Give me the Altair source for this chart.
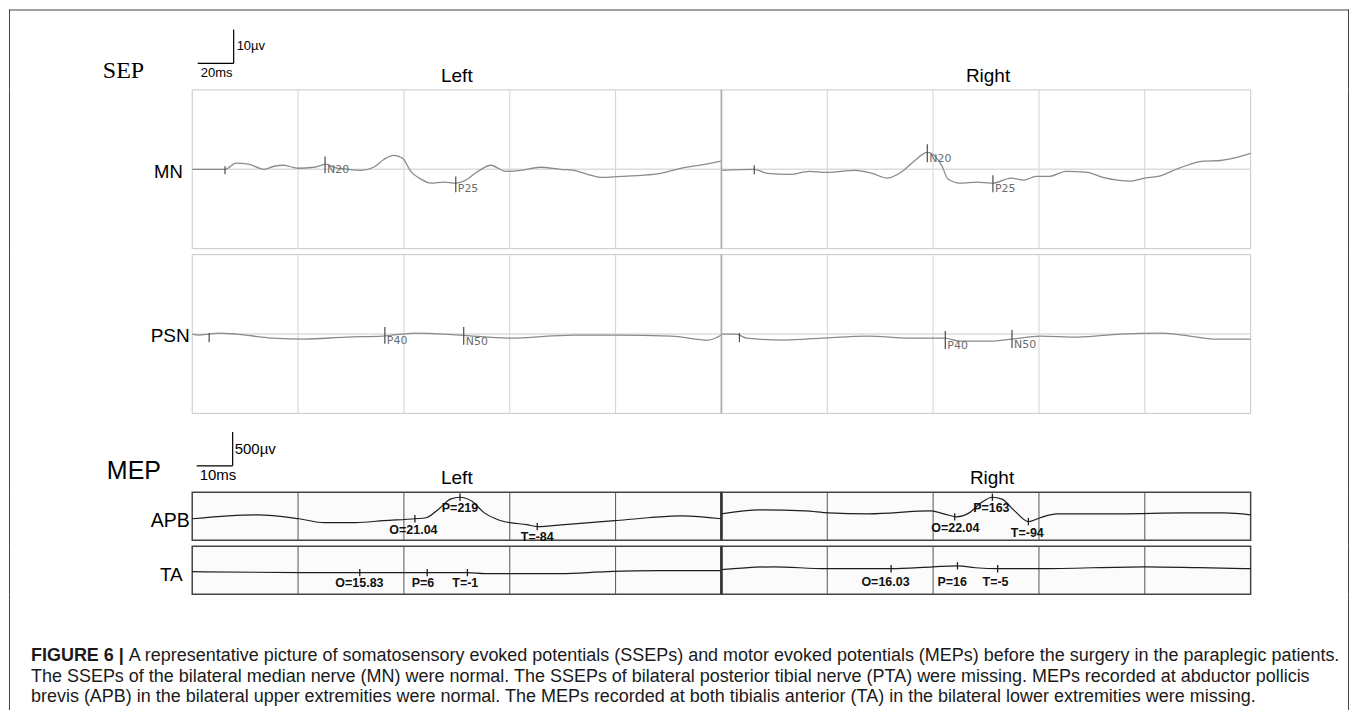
import altair as alt
import pandas as pd

FONT = "Liberation Sans"
NARROW = "Liberation Sans Narrow, Arial Narrow, Liberation Sans"
MARK_FONT = "DejaVu Sans"

# ---------------- SEP traces: time (ms), amplitude (µV) ----------------
MN_L_T = [0, 6.2, 8.3, 10.6, 13.6, 15.5, 17.2, 20.0, 23.0, 25.3, 26.8, 29.4, 31.9, 34.3, 36.2, 38.1, 39.8, 41.3, 43.2,
          45.1, 47.5, 49.8, 51.3, 54.0, 56.4, 59.2, 62.1, 65.8, 69.6, 72.1, 74.7, 77.2, 80.9, 84.7, 88.5, 92.3, 96.0, 100]
MN_L_V = [0, 0, 1.8, 1.5, 0, 0.9, 1.2, 0.3, 0.6, 1.5, 0.6, 0, -0.3, 0.6, 2.9, 4.1, 3.2, -0.6, -2.9,
          -4.1, -3.8, -4.1, -3.5, -0.6, 1.2, -0.6, -0.3, 0.6, 0, -0.3, -1.5, -2.4, -2.1, -1.8, -1.2, 0.3, 1.2, 2.4]

MN_R_T = [0, 6.2, 8.7, 13.0, 16.6, 19.8, 25.3, 28.5, 31.3, 34.2, 36.4, 38.9, 40.4, 41.7, 42.8, 45.1, 48.3, 51.3,
          54.7, 57.2, 59.4, 61.9, 65.1, 69.1, 72.1, 77.4, 80.0, 82.5, 86.4, 91.1, 94.3, 100]
MN_R_V = [-0.3, 0, -1.2, -1.5, -0.6, -0.9, -0.3, -1.2, -2.6, -0.6, 2.4, 5.0, 3.8, 0.9, -2.9, -4.1, -3.8, -4.1,
          -2.6, -3.2, -2.1, -2.1, -0.6, -0.9, -2.4, -3.5, -2.6, -2.1, 0.3, 2.4, 2.6, 4.7]

PSN_L_T = [0, 1.3, 3.2, 5.1, 8.3, 15.1, 21.3, 29.1, 36.0, 42.1, 50.6, 59.8, 72.1, 79.8, 90.6, 97.5, 100]
PSN_L_V = [0, -0.3, 0, 0.3, 0, -1.2, -1.5, -0.9, -0.6, 0.3, -0.3, -1.2, -0.3, -0.3, -0.6, -1.8, -0.3]

PSN_R_T = [0, 2.8, 4.7, 11.9, 19.1, 27.7, 35.7, 42.1, 45.1, 50.8, 54.9, 60.2, 67.4, 75.3, 83.2, 87.2, 93.6, 100]
PSN_R_V = [0, 0, -1.2, -1.8, -1.2, -0.6, -1.2, -1.2, -2.1, -2.1, -1.5, -0.6, -0.9, 0, 0.3, -0.3, -1.5, -1.5]

# SEP markers: time, low / high end of the marker (µV), label
MN_L_MK = ([6.2, 25.1, 49.8], [-1.5, -1.2, -6.8], [0.9, 3.8, -2.1], ["", "N20", "P25"])
MN_R_MK = ([6.2, 38.9, 51.3], [-1.5, 2.1, -6.8], [1.2, 7.4, -1.8], ["", "N20", "P25"])
PSN_L_MK = ([3.2, 36.4, 51.3], [-2.4, -2.9, -3.2], [0.3, 2.1, 2.1], ["", "P40", "N50"])
PSN_R_MK = ([3.4, 42.3, 54.9], [-2.4, -4.4, -4.1], [0.3, 0.9, 1.2], ["", "P40", "N50"])

# ---------------- MEP traces: time (ms), amplitude (µV) ----------------
APB_L_T = [0, 3.4, 6.2, 10.1, 12.5, 15.4, 18.1, 21.1, 22.1, 23.3, 24.4, 25.3, 26.4, 27.6, 28.9, 30.0, 31.6, 32.6,
           35.2, 39.9, 43.1, 46.3, 50]
APB_L_V = [0, 44, 59, 0, -59, -59, -29, 0, 15, 147, 294, 323, 265, 88, -15, -59, -88, -118,
           -88, -29, 15, 44, 0]
APB_R_T = [0, 3.6, 7.9, 10.1, 13.9, 19.8, 21.0, 22.2, 23.4, 24.5, 25.6, 26.5, 27.7, 29.0, 30.1, 31.7, 37.6, 43.6, 47.5, 50]
APB_R_V = [74, 132, 118, 88, 74, 118, 74, 29, 88, 235, 323, 294, 118, -44, 15, 74, 74, 88, 88, 59]
TA_L_T = [0, 10.3, 15.8, 22.2, 26.0, 27.7, 34.8, 39.2, 44.2, 50]
TA_L_V = [15, 0, 0, 0, 0, -15, -15, 15, 29, 29]
TA_R_T = [0, 4.9, 9.9, 16.0, 20.0, 22.3, 24.0, 26.1, 30.0, 40.0, 45.2, 50]
TA_R_V = [44, 88, 59, 59, 88, 103, 74, 59, 59, 88, 74, 59]

# MEP markers: time, amplitude, label text, label time, label amplitude
APB_L_MK = ([21.04, 25.3, 32.6], [0, 323, -118], ["O=21.04", "P=219", "T=-84"], [20.9, 25.3, 32.6], [-162, 162, -279])
APB_R_MK = ([22.04, 25.6, 29.0], [29, 323, -44], ["O=22.04", "P=163", "T=-94"], [22.1, 25.5, 28.9], [-132, 162, -221])
TA_L_MK = ([15.83, 22.2, 26.0], [0, 0, 0], ["O=15.83", "P=6", "T=-1"], [15.8, 21.8, 25.8], [-150, -150, -150])
TA_R_MK = ([16.03, 22.3, 26.1], [59, 103, 59], ["O=16.03", "P=16", "T=-5"], [15.5, 21.8, 25.9], [-145, -145, -145])

ROW_LABELS = ["MN", "PSN", "APB", "TA"]
SIDE_TITLES = ["Left", "Right"]
SECTION_TITLES = ["SEP", "MEP"]
SEP_BAR = ["10µv", "20ms"]
MEP_BAR = ["500µv", "10ms"]
CAPTION_BOLD = "FIGURE 6 |"
CAPTION_LINES = [
    "A representative picture of somatosensory evoked potentials (SSEPs) and motor evoked potentials (MEPs) before the surgery in the paraplegic patients.",
    "The SSEPs of the bilateral median nerve (MN) were normal. The SSEPs of bilateral posterior tibial nerve (PTA) were missing. MEPs recorded at abductor pollicis",
    "brevis (APB) in the bilateral upper extremities were normal. The MEPs recorded at both tibialis anterior (TA) in the bilateral lower extremities were missing.",
]

# ---------------- layout constants ----------------
W = 1342                 # whole figure width (frame included)
X_LEFT = 183.5           # left panel starts here
PANEL_W = 530
SEP_H = 160
MEP_H = 49
GAP = 5
SEP_HEAD_H = 80
MEP_HEAD_H = 78
CAP_H = 116
SEP_HALF = 23.5
MEP_DOMAIN = [-323, 397]
CAP_SIZE = 18
FRAME = "#444444"


def rule_layer(x, x2, y, y2, color="black", width=1.2):
    return alt.Chart(pd.DataFrame({"a": [0]})).mark_rule(color=color, strokeWidth=width).encode(
        x=alt.value(x), x2=alt.value(x2), y=alt.value(y), y2=alt.value(y2))


def frame_layers(h, top=False):
    layers = [rule_layer(0.5, 0.5, 0, h, color=FRAME, width=1),
              rule_layer(W - 0.5, W - 0.5, 0, h, color=FRAME, width=1)]
    if top:
        layers.append(rule_layer(0, W, 0.5, 0.5, color=FRAME, width=1))
    return layers


def text_layer(text, x, y, size, font=FONT, align="left", weight="normal", color="black"):
    return alt.Chart(pd.DataFrame({"lab": [text]})).mark_text(
        align=align, baseline="middle", font=font, fontSize=size, fontWeight=weight, color=color).encode(
        x=alt.value(x), y=alt.value(y), text="lab:N")


def side_layer(t, v, mk, x0, kind):
    if kind == "sep":
        dom, grid_t, h = [-SEP_HALF, SEP_HALF], [20, 40, 60, 80], SEP_H
        tmax = 100
    else:
        dom, grid_t, h = MEP_DOMAIN, [10, 20, 30, 40], MEP_H
        tmax = 50
    xs = alt.Scale(domain=[0, tmax], range=[x0, x0 + PANEL_W], nice=False, zero=False)
    ys = alt.Scale(domain=dom, range=[h - 0.5, 0.5], nice=False, zero=False)
    X = lambda f: alt.X(f, scale=xs, axis=None)
    Y = lambda f: alt.Y(f, scale=ys, axis=None)

    box = pd.DataFrame({"a": [0], "b": [tmax], "lo": [dom[0]], "hi": [dom[1]]})
    grid = pd.DataFrame({"a": grid_t, "lo": [dom[0]] * len(grid_t), "hi": [dom[1]] * len(grid_t)})
    trace_df = pd.DataFrame({"a": t, "v": v})

    if kind == "sep":
        mt, mlo, mhi, mlab = mk
        border = alt.Chart(box).mark_rect(fill="white", stroke="#c8c8c8", strokeWidth=1).encode(
            x=X("a:Q"), x2="b:Q", y=Y("lo:Q"), y2="hi:Q")
        gl = alt.Chart(grid).mark_rule(color="#d2d2d2", strokeWidth=1).encode(x=X("a:Q"), y=Y("lo:Q"), y2="hi:Q")
        base = alt.Chart(pd.DataFrame({"a": [0, tmax], "v": [0, 0]})).mark_line(
            color="#dcdcdc", strokeWidth=1.5).encode(x=X("a:Q"), y=Y("v:Q"))
        trace = alt.Chart(trace_df).mark_line(color="#8a8a8a", strokeWidth=1.3, interpolate="monotone").encode(
            x=X("a:Q"), y=Y("v:Q"))
        mdf = pd.DataFrame({"a": mt, "lo": mlo, "hi": mhi, "lab": mlab})
        ticks = alt.Chart(mdf).mark_rule(color="#4a4a4a", strokeWidth=1.2).encode(
            x=X("a:Q"), y=Y("lo:Q"), y2="hi:Q")
        labs = alt.Chart(mdf).mark_text(align="left", baseline="middle", dx=2, dy=-3, font=MARK_FONT,
                                        fontSize=11, color="#6b6b6b").encode(x=X("a:Q"), y=Y("lo:Q"), text="lab:N")
        return alt.layer(border, gl, base, trace, ticks, labs)

    mt, mv, mlab, lt, lv = mk
    border = alt.Chart(box).mark_rect(fill="#fbfbfb", stroke="#444444", strokeWidth=1.5).encode(
        x=X("a:Q"), x2="b:Q", y=Y("lo:Q"), y2="hi:Q")
    gl = alt.Chart(grid).mark_rule(color="#555555", strokeWidth=1).encode(x=X("a:Q"), y=Y("lo:Q"), y2="hi:Q")
    trace = alt.Chart(trace_df).mark_line(color="#1e1e1e", strokeWidth=1.2, interpolate="monotone").encode(
        x=X("a:Q"), y=Y("v:Q"))
    mdf = pd.DataFrame({"a": mt, "lo": [m - 55 for m in mv], "hi": [m + 55 for m in mv]})
    ticks = alt.Chart(mdf).mark_rule(color="#1e1e1e", strokeWidth=1.3).encode(
        x=X("a:Q"), y=Y("lo:Q"), y2="hi:Q")
    ldf = pd.DataFrame({"a": lt, "v": lv, "lab": mlab})
    labs = alt.Chart(ldf).mark_text(align="center", baseline="middle", font=NARROW, fontSize=12.5,
                                    fontWeight="bold", color="#111111").encode(
        x=X("a:Q"), y=Y("v:Q"), text="lab:N")
    return alt.layer(border, gl, trace, ticks, labs)


def row(label, lx, ly, lsize, left, right, kind, h):
    lt, lv, lmk = left
    rt, rv, rmk = right
    ph = SEP_H if kind == "sep" else MEP_H
    mid_color, mid_w = ("#a8a8a8", 1.6) if kind == "sep" else ("#333333", 2.6)
    return alt.layer(
        *frame_layers(h),
        text_layer(label, lx, ly, lsize, align="right"),
        side_layer(lt, lv, lmk, X_LEFT, kind),
        side_layer(rt, rv, rmk, X_LEFT + PANEL_W, kind),
        rule_layer(X_LEFT + PANEL_W, X_LEFT + PANEL_W, 0.5, ph - 0.5, color=mid_color, width=mid_w),
    ).resolve_scale(x="independent", y="independent").properties(width=W, height=h)


LEFT_C = X_LEFT + PANEL_W / 2
RIGHT_C = X_LEFT + PANEL_W * 1.5

# ---------------- headers ----------------
sep_header = alt.layer(
    *frame_layers(SEP_HEAD_H, top=True),
    rule_layer(225, 225, 20, 54),
    rule_layer(189, 225, 54, 54),
    text_layer(SEP_BAR[0], 228, 37, 13),
    text_layer(SEP_BAR[1], 192, 64, 13),
    text_layer(SECTION_TITLES[0], 94, 62, 24, font="Liberation Serif"),
    text_layer(SIDE_TITLES[0], LEFT_C, 67, 19, align="center"),
    text_layer(SIDE_TITLES[1], RIGHT_C + 2, 67, 19, align="center"),
).properties(width=W, height=SEP_HEAD_H)

mep_header = alt.layer(
    *frame_layers(MEP_HEAD_H),
    rule_layer(224, 224, 18, 52),
    rule_layer(188, 224, 52, 52),
    text_layer(MEP_BAR[0], 226, 35, 15, font=NARROW),
    text_layer(MEP_BAR[1], 191, 61, 15, font=NARROW),
    text_layer(SECTION_TITLES[1], 98, 57, 25),
    text_layer(SIDE_TITLES[0], LEFT_C, 64, 19, align="center"),
    text_layer(SIDE_TITLES[1], RIGHT_C + 6, 64, 19, align="center"),
).properties(width=W, height=MEP_HEAD_H)

caption = alt.layer(
    *frame_layers(CAP_H),
    text_layer(CAPTION_BOLD, 22, 61, CAP_SIZE, weight="bold", color="#1a1a1a"),
    text_layer(CAPTION_LINES[0], 120, 61, CAP_SIZE, color="#1a1a1a"),
    text_layer(CAPTION_LINES[1], 22, 82, CAP_SIZE, color="#1a1a1a"),
    text_layer(CAPTION_LINES[2], 22, 103, CAP_SIZE, color="#1a1a1a"),
).properties(width=W, height=CAP_H)

# ---------------- rows ----------------
mn_row = row(ROW_LABELS[0], 174, 83, 18.5,
             (MN_L_T, MN_L_V, MN_L_MK), (MN_R_T, MN_R_V, MN_R_MK), "sep", SEP_H + GAP)
psn_row = row(ROW_LABELS[1], 181, 82, 19,
              (PSN_L_T, PSN_L_V, PSN_L_MK), (PSN_R_T, PSN_R_V, PSN_R_MK), "sep", SEP_H)
apb_row = row(ROW_LABELS[2], 181, 29, 19.5,
              (APB_L_T, APB_L_V, APB_L_MK), (APB_R_T, APB_R_V, APB_R_MK), "mep", MEP_H + GAP)
ta_row = row(ROW_LABELS[3], 174, 29, 19,
             (TA_L_T, TA_L_V, TA_L_MK), (TA_R_T, TA_R_V, TA_R_MK), "mep", MEP_H)

chart = alt.vconcat(
    sep_header, mn_row, psn_row, mep_header, apb_row, ta_row, caption,
    spacing=0, bounds="flush"
).properties(
    padding={"left": 0, "top": 0, "right": 0, "bottom": 0}, background="white"
).configure_view(strokeWidth=0)

chart.save("out.html", embed_options={"renderer": "svg", "actions": False})
